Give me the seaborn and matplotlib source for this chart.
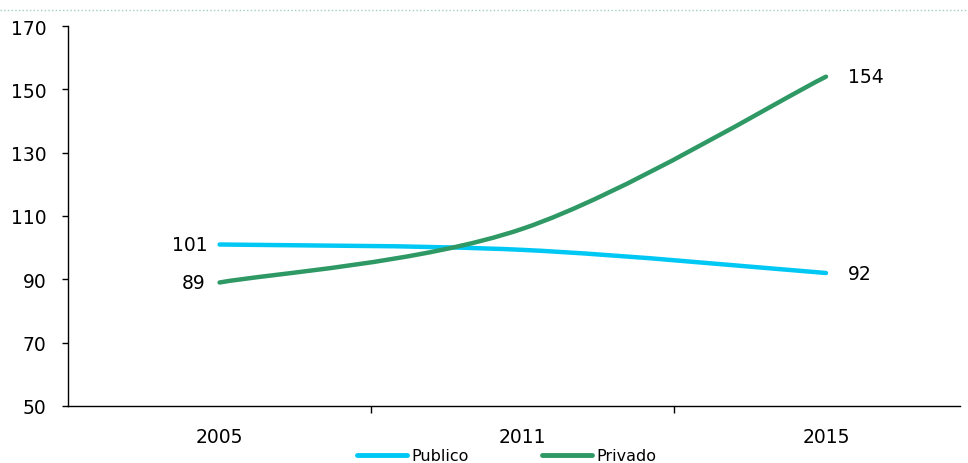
import numpy as np
import pandas as pd
import matplotlib
matplotlib.use('Agg')
import matplotlib.pyplot as plt
import seaborn as sns
from matplotlib.path import Path
from matplotlib.patches import PathPatch
from matplotlib.lines import Line2D

# datos
years = ['2005', '2011', '2015']
publico = [101, 99.3, 92]
privado = [89, 106, 154]
series_names = ['Publico', 'Privado']
colors = ['#00C8F5', '#2E9964']

sns.set_style('white')
plt.rcParams['font.family'] = ['DejaVu Sans']
plt.rcParams['text.color'] = 'black'
plt.rcParams['xtick.color'] = 'black'
plt.rcParams['ytick.color'] = 'black'

df = pd.DataFrame({
    'year': years * 2,
    'value': publico + privado,
    'serie': ['Publico'] * 3 + ['Privado'] * 3,
})
df['pos'] = df['year'].map({y: i for i, y in enumerate(years)})

fig = plt.figure(figsize=(9.68, 4.64), dpi=100)
ax = fig.add_axes([68 / 968, 1 - 407 / 464, (960 - 68) / 968, (407 - 27) / 464])

# puntos reales (invisibles) para que seaborn fije las escalas
sns.lineplot(data=df, x='pos', y='value', hue='serie', palette=colors,
             hue_order=series_names, linewidth=0, legend=False, ax=ax)


def smooth_path(xs, ys):
    # curva suavizada tipo Excel (bezier cúbica)
    pts = np.column_stack([xs, ys]).astype(float)
    n = len(pts)
    verts = [pts[0]]
    codes = [Path.MOVETO]
    for i in range(n - 1):
        p_prev = pts[max(i - 1, 0)]
        p0 = pts[i]
        p1 = pts[i + 1]
        p_next = pts[min(i + 2, n - 1)]
        c1 = p0 + (p1 - p_prev) / 6
        c2 = p1 - (p_next - p0) / 6
        verts += [c1, c2, p1]
        codes += [Path.CURVE4] * 3
    return Path(verts, codes)


for name, col in zip(series_names, colors):
    sub = df[df['serie'] == name]
    patch = PathPatch(smooth_path(sub['pos'], sub['value']), facecolor='none',
                      edgecolor=col, linewidth=3.2, capstyle='round', zorder=3)
    ax.add_patch(patch)

# etiquetas de datos
fs = 13.5
ax.text(-0.04, publico[0], '101', ha='right', va='center', fontsize=fs)
ax.text(-0.047, privado[0], '89', ha='right', va='center', fontsize=fs)
ax.text(2.073, privado[2], '154', ha='left', va='center', fontsize=fs)
ax.text(2.073, publico[2], '92', ha='left', va='center', fontsize=fs)

ax.set_xlim(-0.5, 2.442)
ax.set_ylim(50, 170)
ax.set_yticks(range(50, 171, 20))
ax.set_xticks(range(len(years)))
ax.set_xticklabels(years)
ax.set_xticks([0.5, 1.5], minor=True)
ax.tick_params(axis='x', which='major', length=0, pad=15, labelsize=fs)
ax.tick_params(axis='x', which='minor', length=5, width=1, direction='out', bottom=True)
ax.tick_params(axis='y', length=4.5, width=1, direction='out', left=True, labelsize=fs, pad=11)
ax.set_xlabel('')
ax.set_ylabel('')
for s in ['top', 'right']:
    ax.spines[s].set_visible(False)
for s in ['left', 'bottom']:
    ax.spines[s].set_color('black')
    ax.spines[s].set_linewidth(1)

handles = [Line2D([0], [0], color=c, linewidth=3.5, solid_capstyle='round') for c in colors]
fig.legend(handles, series_names, loc='center', bbox_to_anchor=(507 / 968, 1 - 457 / 464),
           ncol=2, frameon=False, fontsize=11.5, handlelength=3.1, handletextpad=0.3,
           columnspacing=4.6, borderaxespad=0)

# línea punteada superior
fig.add_artist(Line2D([0, 1], [1 - 11 / 464, 1 - 11 / 464], color='#9FD0BA',
                      linestyle=':', linewidth=1, transform=fig.transFigure))

fig.savefig('out.png', dpi=100)
